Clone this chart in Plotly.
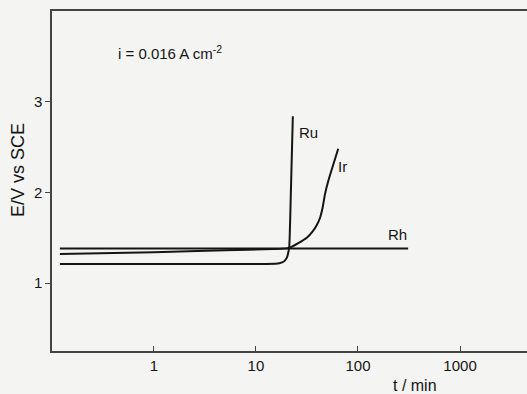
import math
import plotly.graph_objects as go

# Data
rh_t = [0.12, 1, 10, 100, 310]
rh_E = [1.38, 1.38, 1.38, 1.38, 1.38]

ir_t = [0.12, 1, 5, 15, 20, 21.7, 26, 31.5, 36, 39.5, 42.5, 45, 47.5, 51.3, 57.4, 64]
ir_E = [1.32, 1.34, 1.36, 1.375, 1.382, 1.392, 1.44, 1.50, 1.57, 1.64, 1.72, 1.83, 1.98, 2.13, 2.31, 2.48]

ru_t = [0.12, 10, 15.5, 17, 18.3, 19.3, 20.1, 20.7, 21.2, 22.0, 23.0]
ru_E = [1.21, 1.21, 1.212, 1.218, 1.23, 1.25, 1.28, 1.33, 1.40, 2.0, 2.84]

x_ticks = [1, 10, 100, 1000]
x_ticklabels = ["1", "10", "100", "1000"]
y_ticks = [1, 2, 3]
y_ticklabels = ["1", "2", "3"]

# series labels: (text, t at left edge of label, E at label centre)
labels = [("Ru", 25.0, 2.66), ("Ir", 60.5, 2.29), ("Rh", 188.0, 1.54)]

FONT = "Liberation Sans, Arial, sans-serif"
INK = "#151515"

W, H = 527, 394
L, R, T, B = 52, 0, 11, 43

def px(xp):
    return (xp - L) / (W - L - R)

def py(yp):
    return 1 - (yp - T) / (H - T - B)

fig = go.Figure()
for t, e in [(rh_t, rh_E), (ir_t, ir_E), (ru_t, ru_E)]:
    fig.add_trace(go.Scatter(x=t, y=e, mode="lines",
                             line=dict(color=INK, width=2, shape="spline", smoothing=0.6),
                             showlegend=False, hoverinfo="skip"))

for name, x, y in labels:
    fig.add_annotation(x=math.log10(x), y=y, xref="x", yref="y", text=name, showarrow=False,
                       xanchor="left", yanchor="middle",
                       font=dict(family=FONT, size=15, color=INK))

fig.add_annotation(x=px(116), y=py(52), xref="paper", yref="paper",
                   text="i = 0.016 A cm<sup>-2</sup>",
                   showarrow=False, xanchor="left", yanchor="middle",
                   font=dict(family=FONT, size=15, color=INK))

fig.add_annotation(x=px(415), y=py(385), xref="paper", yref="paper", text="t / min",
                   showarrow=False, xanchor="center", yanchor="middle",
                   font=dict(family=FONT, size=16, color=INK))
fig.add_annotation(x=px(18), y=py(170), xref="paper", yref="paper", text="E/V vs SCE",
                   showarrow=False, xanchor="center", yanchor="middle", textangle=-90,
                   font=dict(family=FONT, size=18, color=INK))

fig.update_layout(
    width=W, height=H,
    margin=dict(l=L, r=R, t=T, b=B, pad=0),
    paper_bgcolor="#f4f4f2", plot_bgcolor="#f4f4f2",
    xaxis=dict(type="log", range=[-0.998, 3.656], tickvals=x_ticks, ticktext=x_ticklabels,
               ticks="inside", ticklen=5, tickwidth=1, tickcolor="#444",
               showline=True, linecolor="#444", linewidth=1.5, mirror=True,
               showgrid=False, zeroline=False,
               tickfont=dict(family=FONT, size=15, color=INK)),
    yaxis=dict(range=[0.25, 4.0], tickvals=y_ticks, ticktext=y_ticklabels,
               ticks="outside", ticklen=5, tickwidth=1, tickcolor="#444",
               showline=True, linecolor="#444", linewidth=1.5,
               showgrid=False, zeroline=False,
               tickfont=dict(family=FONT, size=15, color=INK)),
)

fig.write_html("out.html")
